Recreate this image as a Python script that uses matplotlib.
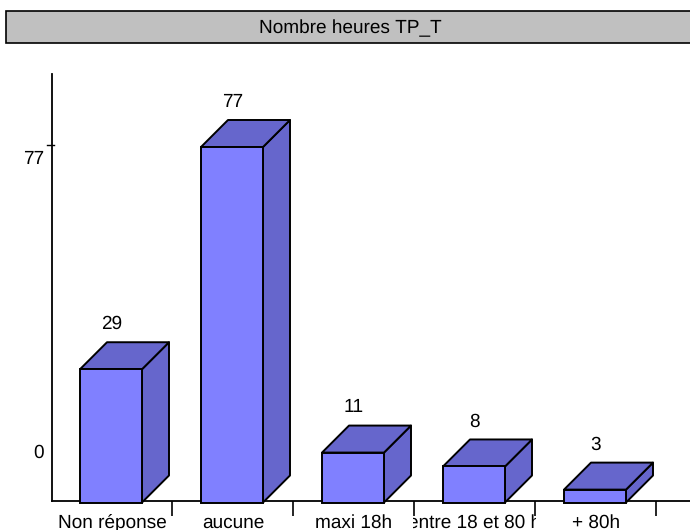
import matplotlib
matplotlib.use('Agg')
import matplotlib.pyplot as plt
from matplotlib.patches import Rectangle
from matplotlib.transforms import Bbox

plt.rcParams['font.family'] = ['Liberation Sans', 'DejaVu Sans']
plt.rcParams['text.hinting'] = 'no_hinting'
plt.rcParams['text.hinting_factor'] = 1

title = 'Nombre heures TP_T'
categories = ['Non réponse', 'aucune', 'maxi 18h', 'entre 18 et 80 h', '+ 80h']
values = [29, 77, 11, 8, 3]
ytick_values = [77]

W, H = 690, 530
FONT = 14.0
FRONT = '#8080FF'
SHADE = '#6666CC'

fig = plt.figure(figsize=(W / 100, H / 100), dpi=100)

# pixels of the plot area
left, right, top, bottom = 52, 690, 74, 501
slot = 121
first_center = 111
per_unit = 4.63
zero_px = 503.5

ax = fig.add_axes([left / W, 1 - bottom / H, (right - left) / W, (bottom - top) / H])
x_min = (left - first_center) / slot
ax.set_xlim(x_min, (right - first_center) / slot)
ax.set_ylim((zero_px - bottom) / per_unit, (zero_px - top) / per_unit)
ax.patch.set_alpha(0)

# 3d depth, 27 px each way
dx = 27 / slot
dy = 27 / per_unit
width = 62 / slot
base = 1.0 / per_unit

for i, v in enumerate(values):
    x0 = i - width / 2
    x1 = i + width / 2
    ax.fill([x1, x1 + dx, x1 + dx, x1], [base, base + dy, v + dy, v],
            facecolor=SHADE, edgecolor='black', lw=1.4, clip_on=False, joinstyle='round')
    ax.fill([x0, x0 + dx, x1 + dx, x1], [v, v + dy, v + dy, v],
            facecolor=SHADE, edgecolor='black', lw=1.4, clip_on=False, joinstyle='round')
    ax.bar(i, v - base, width=width, bottom=base, color=FRONT, edgecolor='black',
           lw=1.4, clip_on=False, zorder=3)
    ax.text(i + 0.005, v + dy + 18 / per_unit, str(v), ha='center', va='center', fontsize=FONT)

for side in ['top', 'right']:
    ax.spines[side].set_visible(False)
for side in ['left', 'bottom']:
    ax.spines[side].set_linewidth(1.3)
    ax.spines[side].set_zorder(1)

# category labels, cut at the slot edges
ax.set_xticks([i + 0.5 for i in range(len(categories))])
ax.set_xticklabels([])
ax.tick_params(axis='x', direction='out', length=11, width=1.2, pad=0)
ax.set_yticks([])

for i, c in enumerate(categories):
    t = ax.text(i + 0.008, -19.5 / per_unit, c, ha='center', va='center', fontsize=FONT, clip_on=True)
    center = first_center + i * slot
    t.set_clip_box(Bbox([[center - 61, 0], [center + 62, H]]))

# value axis: the 77 tick sits above its label, 0 has a label only
for v in ytick_values:
    ax.plot([x_min - 5 / slot, x_min + 2 / slot], [v + 2 / per_unit, v + 2 / per_unit],
            color='black', lw=1.0, clip_on=False)
    ax.text(x_min - 8 / slot, v - 12 / per_unit, str(v), ha='right', va='center', fontsize=FONT, clip_on=False)
ax.text(x_min - 8 / slot, 51 / per_unit, '0', ha='right', va='center', fontsize=FONT, clip_on=False)

# title strip
fig.add_artist(Rectangle((5.5 / W, 1 - 42.5 / H), 690 / W, 31.5 / H, transform=fig.transFigure,
                         facecolor='#C0C0C0', edgecolor='black', lw=1.2))
fig.text(350 / W, 1 - 28 / H, title, ha='center', va='center', fontsize=FONT)

fig.savefig('out.png', dpi=100)
